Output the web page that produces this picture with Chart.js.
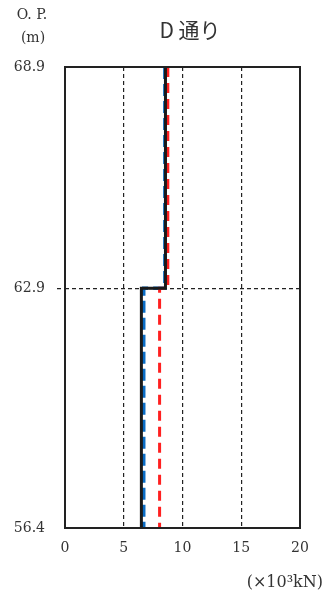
<!DOCTYPE html>
<html>
<head>
<meta charset="utf-8">
<script src="https://cdn.jsdelivr.net/npm/chart.js@4"></script>
<style>
  html, body { margin: 0; padding: 0; background: #fff; }
  #wrap { position: relative; width: 324px; height: 597px; }
  canvas { position: absolute; left: 0; top: 0; }
</style>
</head>
<body>
<div id="wrap"><canvas id="canvas" width="324" height="597"></canvas></div>
<script>
// Datos
const niveles = [68.9, 62.9, 62.9, 56.4];     // O.P. (m)
const negro = [8.55, 8.55, 6.5, 6.5];          // línea negra continua
const azul = [8.5, 8.5, 6.7, 6.7];             // línea azul discontinua
const rojo = [8.75, 8.75, 8.05, 8.05];         // línea roja discontinua
const ticksY = [56.4, 62.9, 68.9];
const ticksX = [0, 5, 10, 15, 20];

const pares = (xs) => xs.map((v, i) => ({ x: v, y: niveles[i] }));

const fuenteNum = "'DejaVu Serif', 'Liberation Serif', serif";
const fuenteJP = "'Noto Sans CJK JP', sans-serif";

// Marco, títulos y etiquetas
const extras = {
  id: 'extras',
  afterDraw(chart) {
    const { ctx, chartArea: a } = chart;
    ctx.save();
    ctx.strokeStyle = '#222';
    ctx.lineWidth = 2;
    ctx.setLineDash([]);
    ctx.strokeRect(a.left, a.top, a.right - a.left, a.bottom - a.top);

    ctx.fillStyle = '#333';
    ctx.font = '21px ' + fuenteJP;
    ctx.textAlign = 'center';
    ctx.textBaseline = 'middle';
    ctx.fillText('D 通り', 190, 30);

    ctx.font = '14px ' + fuenteNum;
    ctx.fillText('O. P.', 32, 15);
    ctx.fillText('(m)', 33, 38);

    ctx.textAlign = 'right';
    ctx.font = '16px ' + fuenteNum;
    ctx.fillText('(×10³kN)', 323, 583);
    ctx.restore();
  }
};

new Chart(document.getElementById('canvas'), {
  type: 'scatter',
  data: {
    datasets: [
      { data: pares(negro), borderColor: '#1a1a1a', borderWidth: 3, showLine: true, pointRadius: 0 },
      { data: pares(rojo), borderColor: '#ff2020', borderWidth: 3, borderDash: [10, 6], showLine: true, pointRadius: 0 },
      { data: pares(azul), borderColor: '#0a6cc4', borderWidth: 3.5, borderDash: [12, 5], showLine: true, pointRadius: 0 }
    ]
  },
  plugins: [extras],
  options: {
    responsive: false,
    animation: false,
    layout: { padding: { top: 67, right: 24, bottom: 0, left: 0 } },
    plugins: { legend: { display: false }, tooltip: { enabled: false } },
    scales: {
      x: {
        type: 'linear', min: 0, max: 20,
        afterBuildTicks: (s) => { s.ticks = ticksX.map(v => ({ value: v })); },
        afterFit: (s) => { s.height = 69; },
        border: { display: false, dash: [4, 3] },
        grid: {
          color: (c) => (c.tick && (c.tick.value === 0 || c.tick.value === 20)) ? 'rgba(0,0,0,0)' : '#222',
          lineWidth: 1.2, drawTicks: false
        },
        ticks: { padding: 12, color: '#333', font: { family: fuenteNum, size: 14 } }
      },
      y: {
        type: 'linear', min: 56.4, max: 68.9,
        afterBuildTicks: (s) => { s.ticks = ticksY.map(v => ({ value: v })); },
        afterFit: (s) => { s.width = 65; },
        border: { display: false, dash: [4, 3] },
        grid: {
          color: (c) => (c.tick && c.tick.value === 62.9) ? '#222' : 'rgba(0,0,0,0)',
          tickColor: (c) => (c.tick && c.tick.value === 62.9) ? '#222' : 'rgba(0,0,0,0)',
          tickBorderDash: [4, 3],
          lineWidth: 1.2, tickLength: 8
        },
        ticks: {
          padding: 12, color: '#333', font: { family: fuenteNum, size: 14 },
          callback: (v) => v.toFixed(1)
        }
      }
    }
  }
});
</script>
</body>
</html>
